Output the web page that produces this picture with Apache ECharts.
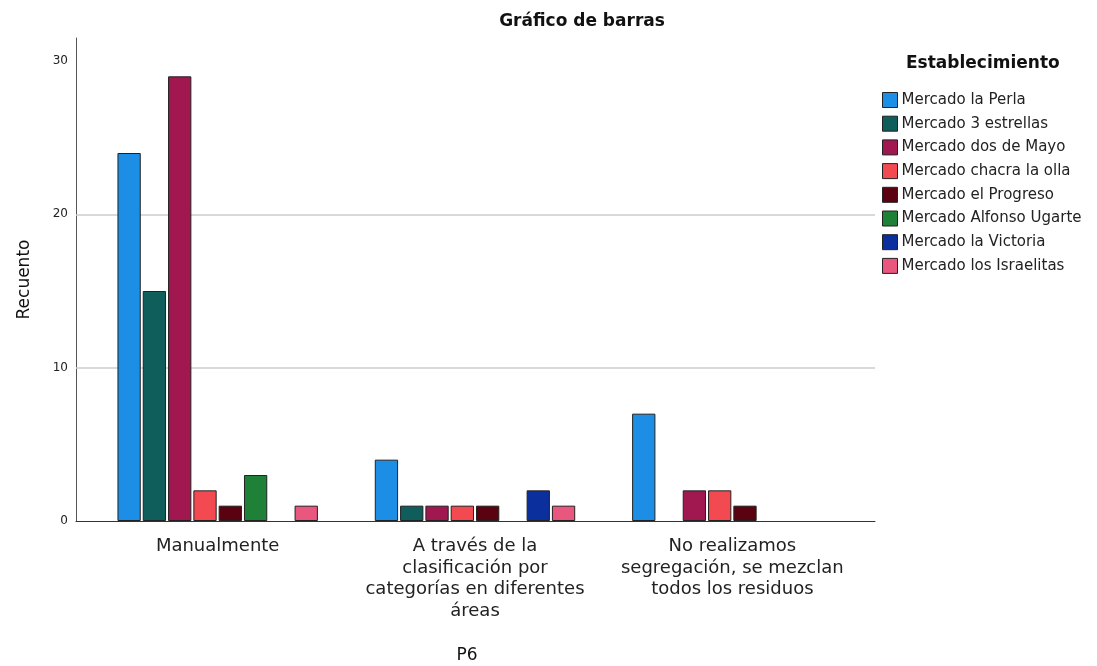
<!DOCTYPE html>
<html><head><meta charset="utf-8">
<script src="https://cdn.jsdelivr.net/npm/echarts@6/dist/echarts.min.js"></script>
<style>html,body{margin:0;padding:0;background:#fff}#c{width:1097px;height:666px}</style>
</head><body><div id="c"></div>
<script>
const categories = ['Manualmente', 'A través de la\nclasificación por\ncategorías en diferentes\náreas', 'No realizamos\nsegregación, se mezclan\ntodos los residuos'];
const seriesNames = ['Mercado la Perla','Mercado 3 estrellas','Mercado dos de Mayo','Mercado chacra la olla','Mercado el Progreso','Mercado Alfonso Ugarte','Mercado la Victoria','Mercado los Israelitas'];
const perla = [24, 4, 7];
const tresEstrellas = [15, 1, 0];
const dosDeMayo = [29, 1, 2];
const chacra = [2, 1, 2];
const progreso = [1, 1, 1];
const alfonso = [3, 0, 0];
const victoria = [0, 2, 0];
const israelitas = [1, 1, 0];
const seriesValues = [perla, tresEstrellas, dosDeMayo, chacra, progreso, alfonso, victoria, israelitas];
const colors = ['#1d8ee6','#0f5e5b','#a0184f','#f34a52','#5a0210','#1f8138','#0b2f9c','#e9577f'];
const yTicks = [0, 10, 20, 30];
const gridLines = [10, 20];

const F = 'DejaVu Sans';
const chart = echarts.init(document.getElementById('c'));
const series = seriesNames.map((n, i) => ({
  name: n, type: 'bar', xAxisIndex: 0, yAxisIndex: 0,
  data: seriesValues[i].map(v => v === 0 ? null : v),
  barWidth: 23.3, barGap: '8.6%',
  itemStyle: { color: colors[i], borderColor: '#222', borderWidth: 1 },
  emphasis: { disabled: true }, z: 3
}));
series.push({
  type: 'line', xAxisIndex: 1, yAxisIndex: 1, data: [], silent: true,
  markLine: { silent: true, symbol: 'none', label: { show: false }, z: 1,
    lineStyle: { color: '#cdcdcd', width: 1.5, type: 'solid' },
    data: gridLines.map(v => ({ yAxis: v })) }, z: 1
});
chart.setOption({
  animation: false,
  color: colors,
  title: [
    { text: 'Gráfico de barras', left: 577, top: 8, textAlign: 'center',
      textStyle: { fontFamily: F, fontSize: 17, fontWeight: 'bold', color: '#111' } },
    { text: 'Establecimiento', left: 901, top: 50,
      textStyle: { fontFamily: F, fontSize: 17, fontWeight: 'bold', color: '#111' } },
    { text: 'P6', left: 462, top: 642, textAlign: 'center',
      textStyle: { fontFamily: F, fontSize: 17, fontWeight: 'normal', color: '#111' } }
  ],
  legend: {
    orient: 'vertical', left: 877, top: 87, itemWidth: 15, itemHeight: 15, itemGap: 7.7,
    icon: 'rect', data: seriesNames,
    itemStyle: { borderColor: '#222', borderWidth: 1 },
    textStyle: { fontFamily: F, fontSize: 15, lineHeight: 15, color: '#222', padding: [0,0,0,-1] }
  },
  grid: [
    { left: 89, right: 236, top: 38, bottom: 145 },
    { left: 76, right: 222, top: 38, bottom: 145 }
  ],
  xAxis: [
    { type: 'category', data: categories, gridIndex: 0,
      axisLine: { show: false }, axisTick: { show: false },
      axisLabel: { fontFamily: F, fontSize: 18, color: '#222', lineHeight: 21.5, margin: 15, interval: 0 } },
    { type: 'value', gridIndex: 1, min: 0, max: 1, show: true,
      axisLine: { show: true, onZero: false, lineStyle: { color: '#333', width: 1 } },
      axisTick: { show: false }, axisLabel: { show: false }, splitLine: { show: false } }
  ],
  yAxis: [
    { type: 'value', gridIndex: 0, min: 0, max: 31.5, interval: 10,
      name: 'Recuento', nameLocation: 'middle', nameGap: 56,
      nameTextStyle: { fontFamily: F, fontSize: 17, color: '#111' },
      axisLine: { show: false }, axisTick: { show: false }, splitLine: { show: false },
      axisLabel: { fontFamily: F, fontSize: 12, color: '#222', margin: 21,
        formatter: v => yTicks.includes(v) ? String(v) : '' } },
    { type: 'value', gridIndex: 1, min: 0, max: 31.5, interval: 10,
      axisLine: { show: true, onZero: false, lineStyle: { color: '#555', width: 1 } },
      axisTick: { show: false }, axisLabel: { show: false }, splitLine: { show: false } }
  ],
  series: series
});
</script></body></html>
